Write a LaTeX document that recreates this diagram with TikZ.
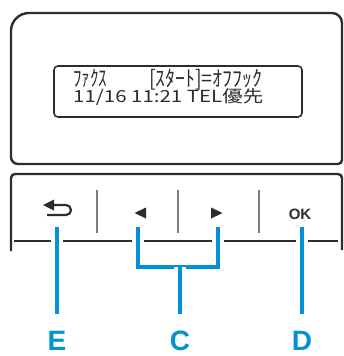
\documentclass[tikz,border=0pt]{standalone}
\usepackage{fontspec}
\usepackage{graphicx}
\setmainfont{Liberation Sans}
\newfontfamily\jp{Noto Sans CJK JP}
\definecolor{cblue}{RGB}{0,146,212}
\definecolor{frame}{RGB}{45,45,45}
\definecolor{sepgray}{RGB}{125,125,125}
\begin{document}
\begin{tikzpicture}[x=1pt,y=-1pt,
  panel/.style={draw=frame, line width=2.4pt},
  lcd/.style={draw=frame, line width=1.6pt, rounded corners=4pt},
  sepline/.style={draw=sepgray, line width=2.2pt},
  baseline/.style={draw=frame, line width=2.4pt},
  callout/.style={draw=cblue, line width=3.4pt, preaction={draw=white, line width=12pt}},
  lbl/.style={text=cblue, inner sep=0pt, outer sep=17pt, font=\bfseries\fontsize{28}{28}\selectfont},
  lcdtext/.style={text=frame, inner sep=0pt, anchor=base west, font=\jp\fontsize{17}{17}\selectfont},
  icon/.style={fill=frame, draw=none}]
\useasboundingbox (0,0) rectangle (344,356);
% top panel
\draw[panel] (11,31) arc[start angle=180, end angle=90, radius=18pt] -- (332,13)
  arc[start angle=90, end angle=0, radius=10pt] -- (342,160)
  arc[start angle=0, end angle=-90, radius=4pt] -- (18,164)
  arc[start angle=270, end angle=180, radius=7pt] -- cycle;
% LCD
\draw[lcd] (54,66) rectangle (302,117);
\node[lcdtext] (line1) at (73,86.5) {\resizebox{34pt}{17.5pt}{ﾌｧｸｽ}\hspace{42pt}\resizebox{113pt}{17.5pt}{[ｽﾀｰﾄ]=ｵﾌﾌｯｸ}};
\node[lcdtext] (line2) at (73,102.5) {\resizebox{190pt}{14pt}{11/16 11:21 TEL優先}};
% bottom panel
\draw[panel, rounded corners=4pt] (11,251) -- (11,174) -- (342,174) -- (342,250);
\draw[baseline] (14,241) -- (338,241);
\draw[sepline] (97,190) -- (97,233);
\draw[sepline] (178,190) -- (178,233);
\draw[sepline] (259,190) -- (259,233);
% icons
\coordinate (back) at (57,210);
\draw[frame, line width=2.2pt] (53,205) -- (66,205) arc[start angle=90, end angle=-90, radius=5pt] -- (47,215);
\fill[icon] (43,205) -- (54,199.5) -- (54,210.5) -- cycle;
\coordinate (left) at (140,213);
\fill[icon] (134.5,213) -- (146,207.5) -- (146,218.5) -- cycle;
\coordinate (right) at (217,213);
\fill[icon] (222.5,213) -- (211,207.5) -- (211,218.5) -- cycle;
\node[text=frame, inner sep=0pt, font=\bfseries\fontsize{15}{15}\selectfont] (ok) at (300,214) {OK};
% callouts
\coordinate (bE) at (57,227);
\coordinate (bCl) at (138,227);
\coordinate (bCr) at (218,227);
\coordinate (bD) at (302,227);
\coordinate (cmid) at (180,267);
\node[lbl] (E) at (57,341) {E};
\node[lbl] (C) at (180,341) {C};
\node[lbl] (D) at (302,341) {D};
\draw[callout] (bE) -- (E.north);
\draw[callout] (bCl) |- (cmid) -| (bCr);
\draw[callout] (cmid) -- (C.north);
\draw[callout] (bD) -- (D.north);
\end{tikzpicture}
\end{document}
